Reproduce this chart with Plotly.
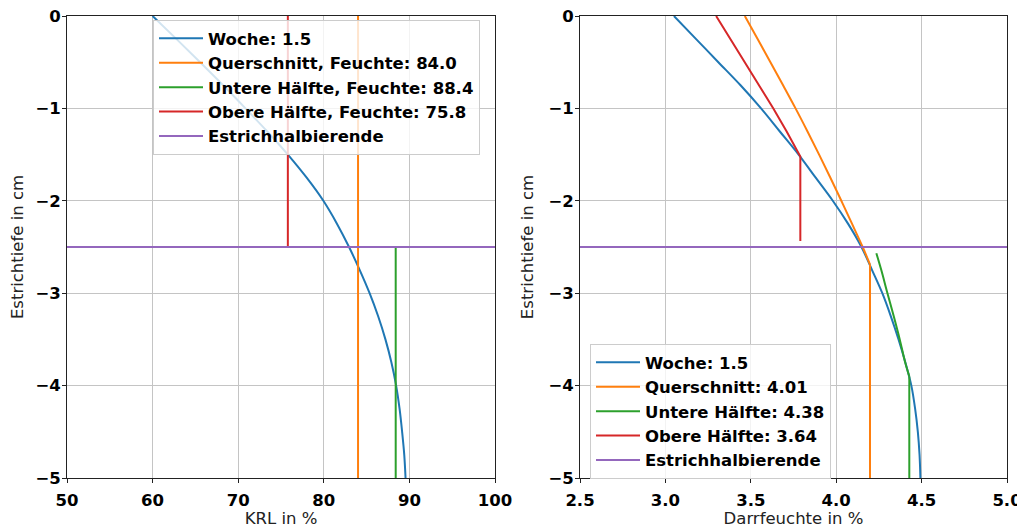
import plotly.graph_objects as go

# ---------------- data ----------------
# depth below surface (cm), plotted as negative values
depth = [0.0, -0.25, -0.5, -0.75, -1.0, -1.25, -1.5, -1.75, -2.0, -2.25, -2.5,
         -2.75, -3.0, -3.25, -3.5, -3.75, -4.0, -4.25, -4.5, -4.75, -5.0]

# left panel: KRL (%) profile for week 1.5
krl_woche = [60.0, 62.8, 65.55, 68.25, 70.85, 73.4, 75.8, 78.0, 79.95, 81.55, 82.95,
             84.2, 85.35, 86.35, 87.2, 87.9, 88.45, 88.85, 89.15, 89.4, 89.55]
krl_querschnitt = 84.0
krl_untere = 88.4
krl_obere = 75.8

# right panel: Darrfeuchte (%) profile for week 1.5
df_woche = [3.05, 3.18, 3.31, 3.44, 3.56, 3.67, 3.78, 3.88, 3.98, 4.07, 4.148,
            4.21, 4.27, 4.32, 4.365, 4.405, 4.44, 4.462, 4.478, 4.488, 4.493]

# Querschnitt: curved part down to the kink, then constant value to the bottom
df_quer_depth = [0.0, -0.25, -0.5, -0.75, -1.0, -1.25, -1.5, -1.75, -2.0, -2.25, -2.5, -2.69]
df_quer = [3.465, 3.54, 3.615, 3.689, 3.762, 3.832, 3.90, 3.966, 4.03, 4.093, 4.155, 4.198]
df_quer_const_depth = [-2.69, -5.0]
df_quer_const = [4.198, 4.198]

df_obere_depth = [0.0, -0.25, -0.5, -0.75, -1.0, -1.25, -1.45, -1.52, -2.435]
df_obere = [3.297, 3.38, 3.465, 3.55, 3.632, 3.71, 3.769, 3.79, 3.79]

# Untere Hälfte: curved part, then constant value to the bottom
df_untere_depth = [-2.567, -2.75, -3.0, -3.25, -3.5, -3.75, -3.9]
df_untere = [4.235, 4.264, 4.30, 4.337, 4.372, 4.404, 4.428]
df_untere_const_depth = [-3.9, -5.0]
df_untere_const = [4.428, 4.428]

half_depth = -2.5
krl_range = [50, 100]
df_range = [2.5, 5.0]
depth_range = [-5, 0]

labels_left = ["Woche: 1.5", "Querschnitt, Feuchte: 84.0", "Untere Hälfte, Feuchte: 88.4",
               "Obere Hälfte, Feuchte: 75.8", "Estrichhalbierende"]
labels_right = ["Woche: 1.5", "Querschnitt: 4.01", "Untere Hälfte: 4.38",
                "Obere Hälfte: 3.64", "Estrichhalbierende"]

colors = ["#1f77b4", "#ff7f0e", "#2ca02c", "#d62728", "#9467bd"]

# ---------------- figure ----------------
fig = go.Figure()
LW = 2

# left panel
fig.add_trace(go.Scatter(x=krl_woche, y=depth, mode="lines", name=labels_left[0],
                         line=dict(color=colors[0], width=LW, shape="spline"),
                         xaxis="x", yaxis="y", legend="legend"))
fig.add_trace(go.Scatter(x=[krl_querschnitt, krl_querschnitt], y=[depth[0], depth[-1]], mode="lines",
                         name=labels_left[1], line=dict(color=colors[1], width=LW),
                         xaxis="x", yaxis="y", legend="legend"))
fig.add_trace(go.Scatter(x=[krl_untere, krl_untere], y=[half_depth, depth[-1]], mode="lines",
                         name=labels_left[2], line=dict(color=colors[2], width=LW),
                         xaxis="x", yaxis="y", legend="legend"))
fig.add_trace(go.Scatter(x=[krl_obere, krl_obere], y=[depth[0], half_depth], mode="lines",
                         name=labels_left[3], line=dict(color=colors[3], width=LW),
                         xaxis="x", yaxis="y", legend="legend"))
fig.add_trace(go.Scatter(x=krl_range, y=[half_depth, half_depth], mode="lines",
                         name=labels_left[4], line=dict(color=colors[4], width=LW),
                         xaxis="x", yaxis="y", legend="legend"))

# right panel
fig.add_trace(go.Scatter(x=df_woche, y=depth, mode="lines", name=labels_right[0],
                         line=dict(color=colors[0], width=LW, shape="spline"),
                         xaxis="x2", yaxis="y2", legend="legend2"))
fig.add_trace(go.Scatter(x=df_quer, y=df_quer_depth, mode="lines", name=labels_right[1],
                         line=dict(color=colors[1], width=LW, shape="spline"),
                         xaxis="x2", yaxis="y2", legend="legend2"))
fig.add_trace(go.Scatter(x=df_quer_const, y=df_quer_const_depth, mode="lines", name=labels_right[1],
                         line=dict(color=colors[1], width=LW), showlegend=False,
                         xaxis="x2", yaxis="y2", legend="legend2"))
fig.add_trace(go.Scatter(x=df_untere, y=df_untere_depth, mode="lines", name=labels_right[2],
                         line=dict(color=colors[2], width=LW, shape="spline"),
                         xaxis="x2", yaxis="y2", legend="legend2"))
fig.add_trace(go.Scatter(x=df_untere_const, y=df_untere_const_depth, mode="lines", name=labels_right[2],
                         line=dict(color=colors[2], width=LW), showlegend=False,
                         xaxis="x2", yaxis="y2", legend="legend2"))
fig.add_trace(go.Scatter(x=df_obere, y=df_obere_depth, mode="lines", name=labels_right[3],
                         line=dict(color=colors[3], width=LW),
                         xaxis="x2", yaxis="y2", legend="legend2"))
fig.add_trace(go.Scatter(x=df_range, y=[half_depth, half_depth], mode="lines",
                         name=labels_right[4], line=dict(color=colors[4], width=LW),
                         xaxis="x2", yaxis="y2", legend="legend2"))

FS = 16.5
tickfont = dict(family="DejaVu Sans", size=FS, color="black", weight="bold")
titlefont = dict(family="DejaVu Sans", size=FS, color="#222222")
ytickvals = [0, -1, -2, -3, -4, -5]
yticktext = ["0", "−1", "−2", "−3", "−4", "−5"]

axis_common = dict(showline=True, linecolor="#222222", linewidth=1, mirror=True,
                   ticks="outside", ticklen=4, tickwidth=1, tickcolor="#222222",
                   showgrid=True, gridcolor="#c4c4c4", gridwidth=1, zeroline=False,
                   tickfont=tickfont, automargin=False, ticklabeloverflow="allow")

legend_font = dict(family="DejaVu Sans", size=FS, color="black", weight="bold")

# the page body has an 8px margin: figure is placed at (8, 8) in the window
W, H = 1017, 520
PT, PB = 8, 470          # plot area top / bottom in figure px
PH = PB - PT

fig.update_layout(
    width=W, height=H,
    margin=dict(l=0, r=0, t=PT, b=H - PB),
    paper_bgcolor="white", plot_bgcolor="white",
    xaxis=dict(domain=[59 / W, 487 / W], range=krl_range, anchor="y",
               tickvals=[50, 60, 70, 80, 90, 100], ticklabelstandoff=3,
               title=dict(text="KRL in %", font=titlefont, standoff=2), **axis_common),
    yaxis=dict(domain=[0, 1], range=depth_range, anchor="x",
               tickvals=ytickvals, ticktext=yticktext, ticklabelstandoff=-2,
               title=dict(text="Estrichtiefe in cm", font=titlefont, standoff=10), **axis_common),
    xaxis2=dict(domain=[572 / W, 999 / W], range=df_range, anchor="y2",
                tickvals=[2.5, 3.0, 3.5, 4.0, 4.5, 5.0], ticktext=["2.5", "3.0", "3.5", "4.0", "4.5", "5.0"],
                ticklabelstandoff=3,
                title=dict(text="Darrfeuchte in %", font=titlefont, standoff=2), **axis_common),
    yaxis2=dict(domain=[0, 1], range=depth_range, anchor="x2",
                tickvals=ytickvals, ticktext=yticktext, ticklabelstandoff=-2,
                title=dict(text="Estrichtiefe in cm", font=titlefont, standoff=10), **axis_common),
    legend=dict(x=145 / W, y=(PB - 12) / PH, xanchor="left", yanchor="top",
                bgcolor="rgba(255,255,255,0.8)", bordercolor="#cccccc", borderwidth=1,
                font=legend_font, itemwidth=44, tracegroupgap=0),
    legend2=dict(x=582 / W, y=(PB - 336) / PH, xanchor="left", yanchor="top",
                 bgcolor="rgba(255,255,255,0.8)", bordercolor="#cccccc", borderwidth=1,
                 font=legend_font, itemwidth=44, tracegroupgap=0),
    showlegend=True,
)

fig.write_html("out.html")
